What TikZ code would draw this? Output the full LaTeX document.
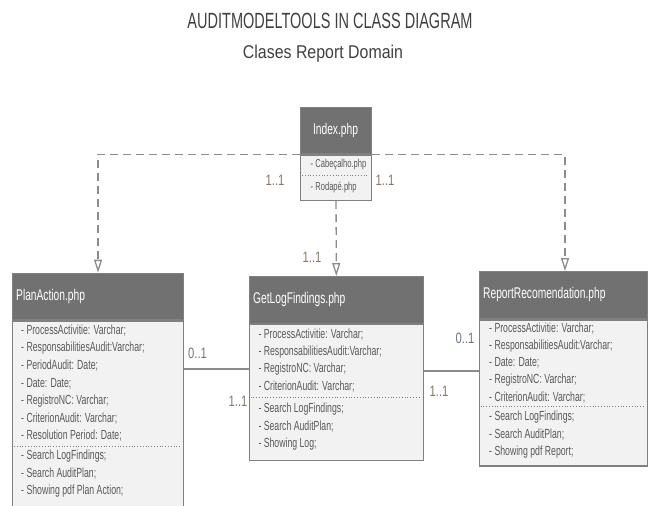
\documentclass[tikz,border=0pt]{standalone}
\usepackage{fontspec}
\setmainfont{Liberation Sans}[FakeStretch=0.66]
\newfontfamily\subfont{Liberation Sans}[FakeStretch=0.86]
\newfontfamily\multfont{Liberation Sans}[FakeStretch=0.75]
\usetikzlibrary{arrows.meta}
\definecolor{hdrfill}{HTML}{717171}
\definecolor{bodyfill}{HTML}{F2F2F2}
\definecolor{boxline}{HTML}{808080}
\definecolor{txt}{HTML}{595959}
\definecolor{lin}{HTML}{8C8C8C}
\definecolor{sepgray}{HTML}{808080}
\definecolor{multa}{HTML}{857865}
\definecolor{multb}{HTML}{6E7683}
\definecolor{ttl}{HTML}{404040}
\tikzset{
  hdr/.style={draw=boxline, fill=hdrfill, line width=1.1pt, inner sep=0, anchor=north west},
  bdy/.style={draw=boxline, fill=bodyfill, line width=1.1pt, inner sep=0, anchor=north west},
  htext/.style={text=white, font=\fontsize{15.5}{18}\selectfont, inner sep=0},
  attr/.style={text=txt, font=\fontsize{13.2}{15}\selectfont, anchor=west, inner sep=0},
  smallattr/.style={text=txt, font=\fontsize{11.5}{13}\selectfont, anchor=west, inner sep=0},
  sepline/.style={draw=sepgray, dotted, line width=0.8pt},
  dep/.style={draw=lin, dash pattern=on 8pt off 5pt, line width=1.3pt, -{Triangle[open,length=13pt,width=8pt]}},
  assoc/.style={draw=lin, line width=1.3pt},
  mult/.style={font=\multfont\fontsize{15}{17}\selectfont, inner sep=0},
}
\begin{document}
\begin{tikzpicture}[x=1pt,y=-1pt]
\clip (0,0) rectangle (648,506);
\fill[white] (0,0) rectangle (648,506);

% titles
\node[anchor=base, text=ttl, font=\fontsize{22}{26}\selectfont, inner sep=0] (title) at (330,28.3) {AUDITMODELTOOLS IN CLASS DIAGRAM};
\node[anchor=base, text=ttl, font=\subfont\fontsize{18.5}{22}\selectfont, inner sep=0] (sub) at (323,58.3) {Clases Report Domain};

% Index.php
\node[hdr, minimum width=71pt, minimum height=46.6pt] (ih) at (300,106.7) {};
\node[htext] (iht) at (335.5,130) {Index.php};
\node[bdy, minimum width=71pt, minimum height=45.7pt] (ib) at (ih.south west) {};
\node[smallattr] (i1) at (310.5,165) {- Cabeçalho.php};
\node[smallattr] (i2) at (310.5,187) {- Rodapé.php};
\coordinate (isl) at (302,175);
\coordinate (isr) at (369,175);
\draw[sepline] (isl) -- (isr);

% PlanAction.php
\node[hdr, minimum width=171pt, minimum height=46.6pt] (ph) at (12,272.7) {};
\node[htext, anchor=west] (pht) at (16,296.7) {PlanAction.php};
\node[bdy, minimum width=171pt, minimum height=210pt] (pb) at (ph.south west) {};
\foreach \t [count=\i] in {- ProcessActivitie: Varchar;, - ResponsabilitiesAudit:Varchar;, - PeriodAudit: Date;, - Date: Date;, - RegistroNC: Varchar;, - CriterionAudit: Varchar;, - Resolution Period: Date;}
  \node[attr] (pa\i) at (21,{331+17.5*(\i-1)}) {\t};
\coordinate (psl) at (14,446.5);
\coordinate (psr) at (181,446.5);
\draw[sepline] (psl) -- (psr);
\foreach \t [count=\i] in {- Search LogFindings;, - Search AuditPlan;, - Showing pdf Plan Action;}
  \node[attr] (pm\i) at (21,{456+17.5*(\i-1)}) {\t};

% GetLogFindings.php
\node[hdr, minimum width=174.5pt, minimum height=46.7pt] (gh) at (248.5,276) {};
\node[htext, anchor=west] (ght) at (253,299) {GetLogFindings.php};
\node[bdy, minimum width=174.5pt, minimum height=136pt] (gb) at (gh.south west) {};
\foreach \t [count=\i] in {- ProcessActivitie: Varchar;, - ResponsabilitiesAudit:Varchar;, - RegistroNC: Varchar;, - CriterionAudit: Varchar;}
  \node[attr] (ga\i) at (258.3,{334.3+17.3*(\i-1)}) {\t};
\coordinate (gsl) at (250.5,397.7);
\coordinate (gsr) at (421,397.7);
\draw[sepline] (gsl) -- (gsr);
\foreach \t [count=\i] in {- Search LogFindings;, - Search AuditPlan;, - Showing Log;}
  \node[attr] (gm\i) at (258.3,{409.5+17.4*(\i-1)}) {\t};

% ReportRecomendation.php
\node[hdr, minimum width=168.5pt, minimum height=47.3pt] (rh) at (478.5,271) {};
\node[htext, anchor=west] (rht) at (483,294.3) {ReportRecomendation.php};
\node[bdy, minimum width=168.5pt, minimum height=146pt] (rb) at (rh.south west) {};
\foreach \t [count=\i] in {- ProcessActivitie: Varchar;, - ResponsabilitiesAudit:Varchar;, - Date: Date;, - RegistroNC: Varchar;, - CriterionAudit: Varchar;}
  \node[attr] (ra\i) at (489,{328.3+17.3*(\i-1)}) {\t};
\coordinate (rsl) at (480.5,406);
\coordinate (rsr) at (645,406);
\draw[sepline] (rsl) -- (rsr);
\foreach \t [count=\i] in {- Search LogFindings;, - Search AuditPlan;, - Showing pdf Report;}
  \node[attr] (rm\i) at (489,{417.5+17.4*(\i-1)}) {\t};

% dependencies from Index
\draw[dep] (ih.south west) -| (ph.north);
\coordinate (rtop) at (565,271);
\draw[dep] (ih.south east) -| (rtop);
\draw[dep] (ib.south) -- (gh.north);

% associations
\coordinate (ya) at (0,369);
\coordinate (yb) at (0,371);
\draw[assoc] (pb.east |- ya) -- (gb.west |- ya);
\draw[assoc] (gb.east |- yb) -- (rb.west |- yb);

% multiplicities
\node[mult, text=multa] (m1) at (275,180) {1..1};
\node[mult, text=multa] (m2) at (385,180) {1..1};
\node[mult, text=multa] (m3) at (312,257) {1..1};
\node[mult, text=multb] (m4) at (197.5,353) {0..1};
\node[mult, text=multa] (m5) at (238,401.7) {1..1};
\node[mult, text=multb] (m6) at (465,338.3) {0..1};
\node[mult, text=multa] (m7) at (439,391.7) {1..1};
\end{tikzpicture}
\end{document}
